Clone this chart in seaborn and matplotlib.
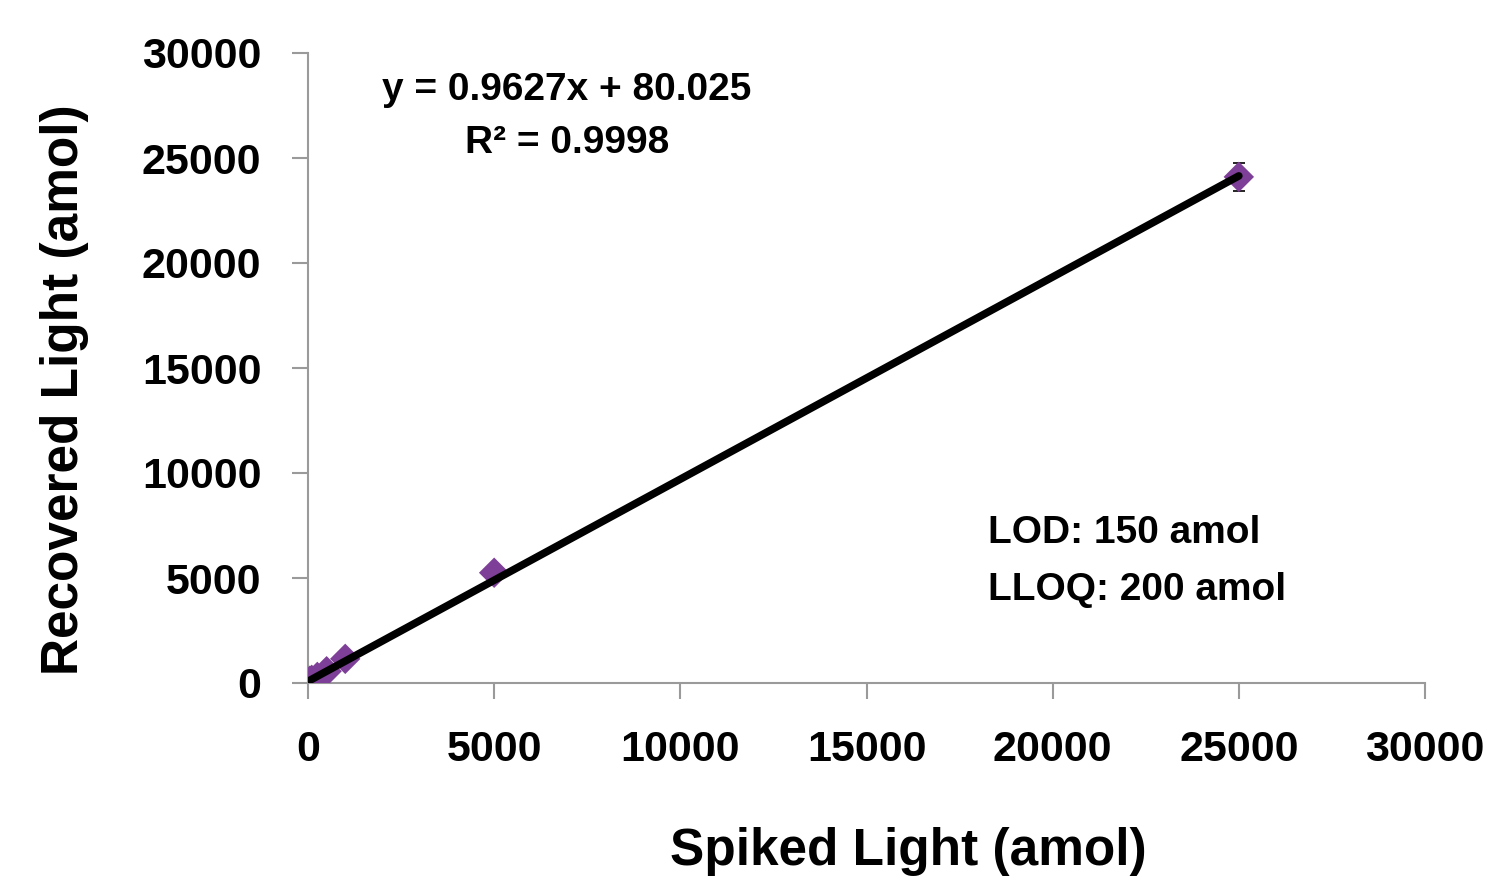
import numpy as np
import pandas as pd
import matplotlib
matplotlib.use("Agg")
import matplotlib.pyplot as plt
import seaborn as sns

# Data
spiked = [50, 100, 250, 500, 1000, 5000, 25000]
recovered = [110, 150, 290, 560, 1150, 5250, 24100]
err = [10, 10, 15, 20, 30, 60, 680]
slope = 0.9627
intercept = 80.025
x_ticks = [0, 5000, 10000, 15000, 20000, 25000, 30000]
y_ticks = [0, 5000, 10000, 15000, 20000, 25000, 30000]
eq_text = "y = 0.9627x + 80.025"
r2_text = "R² = 0.9998"
lod_text = "LOD: 150 amol"
lloq_text = "LLOQ: 200 amol"
x_label = "Spiked Light (amol)"
y_label = "Recovered Light (amol)"

sns.set_theme(style="white")
plt.rcParams['font.family'] = ['Liberation Sans Narrow', 'Liberation Sans', 'DejaVu Sans']
plt.rcParams['font.weight'] = 'bold'
plt.rcParams['text.color'] = 'black'
plt.rcParams['axes.labelcolor'] = 'black'
plt.rcParams['xtick.color'] = 'black'
plt.rcParams['ytick.color'] = 'black'

fig = plt.figure(figsize=(14.88, 8.85), dpi=100)
ax = fig.add_axes([308/1488, 1-683/885, (1425-308)/1488, (683-53)/885])

df = pd.DataFrame({"x": spiked, "y": recovered})
purple = "#7E3F98"
ax.errorbar(spiked, recovered, yerr=err, fmt="none", ecolor="black",
            elinewidth=1.2, capsize=4.5, capthick=1.2, zorder=2)
sns.scatterplot(data=df, x="x", y="y", marker="D", s=240, color=purple,
                edgecolor="none", ax=ax, zorder=3)
line_x = np.array([min(spiked), max(spiked)])
line_df = pd.DataFrame({"x": line_x, "y": slope * line_x + intercept})
sns.lineplot(data=line_df, x="x", y="y", color="black", linewidth=5.5,
             ax=ax, zorder=4, solid_capstyle="round")

ax.set_xlim(0, 30000)
ax.set_ylim(0, 30000)
ax.set_xticks(x_ticks)
ax.set_yticks(y_ticks)
ax.set_xticklabels([str(t) for t in x_ticks])
ax.set_yticklabels([str(t) for t in y_ticks])
for s in ["top", "right"]:
    ax.spines[s].set_visible(False)
for s in ["left", "bottom"]:
    ax.spines[s].set_color("#9a9a9a")
    ax.spines[s].set_linewidth(1.5)
ax.tick_params(axis="both", which="major", direction="out", length=11.5,
               width=1.5, color="#9a9a9a", labelcolor="black", labelsize=31,
               left=True, bottom=True)
ax.tick_params(axis="y", pad=22)
ax.tick_params(axis="x", pad=22)
for lab in ax.get_xticklabels() + ax.get_yticklabels():
    lab.set_fontweight("bold")

ax.set_xlabel(x_label, fontsize=37, fontweight="bold")
ax.set_ylabel(y_label, fontsize=37, fontweight="bold")
ax.xaxis.set_label_coords((908 - 308) / (1425 - 308), -(851 - 683) / (683 - 53))
ax.yaxis.set_label_coords(-(308 - 65) / (1425 - 308), (683 - 390) / (683 - 53))
ax.xaxis.label.set_va("center")
ax.yaxis.label.set_va("center")

fig.text(567/1488, 1-90/885, eq_text, fontsize=28, fontweight="bold",
         ha="center", va="center")
fig.text(567/1488, 1-143/885, r2_text, fontsize=28, fontweight="bold",
         ha="center", va="center")
fig.text(988/1488, 1-533/885, lod_text, fontsize=28, fontweight="bold",
         ha="left", va="center")
fig.text(988/1488, 1-590/885, lloq_text, fontsize=28, fontweight="bold",
         ha="left", va="center")

fig.savefig("out.png", dpi=100, facecolor="white")
